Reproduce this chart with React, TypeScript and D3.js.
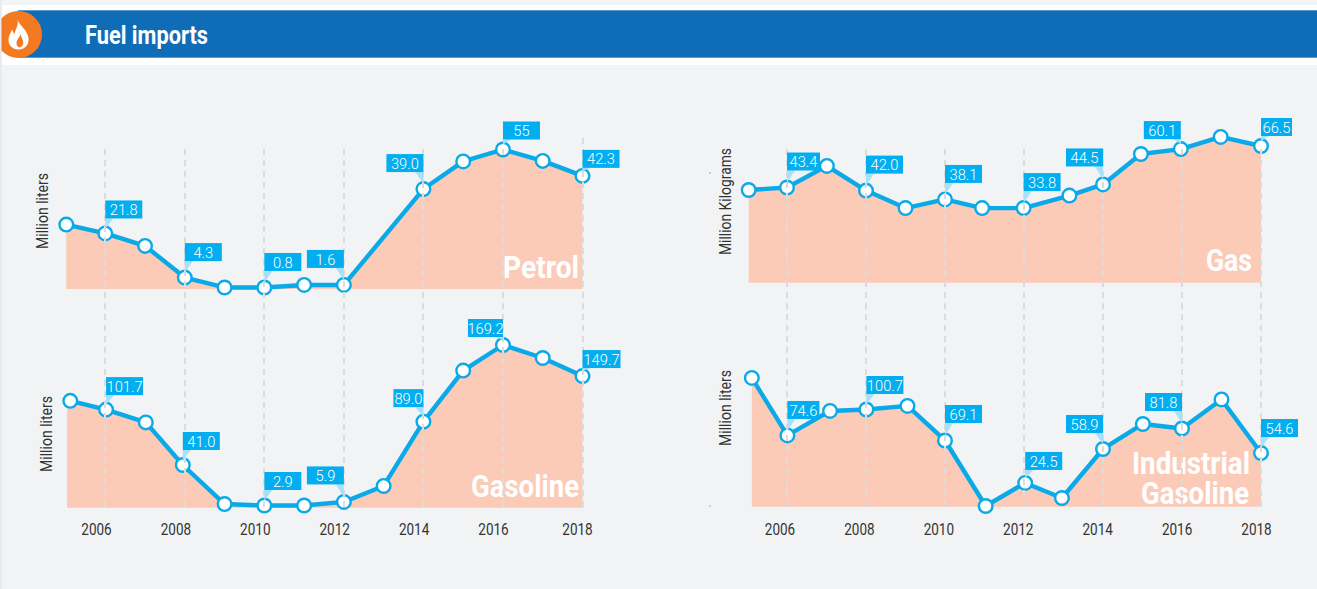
import React from "react";
import * as d3 from "d3";

const W = 1317;
const H = 589;
const FONT = "Roboto, 'Noto Sans', sans-serif";

// ---------- data ----------
const headerTitle = "Fuel imports";
const tickYears = [2006, 2008, 2010, 2012, 2014, 2016, 2018];

const petrolTimes = [2005.02, 2006, 2007, 2008, 2009, 2010, 2011, 2012, 2014, 2015, 2016, 2017, 2018];
const petrolValues = [25.4, 21.9, 17.0, 4.5, 0.6, 0.6, 1.6, 1.6, 39.4, 50.3, 55.0, 50.5, 44.6];
const petrolLabelYears = [2006, 2008, 2010, 2012, 2014, 2016, 2018];
const petrolLabelTexts = ["21.8", "4.3", "0.8", "1.6", "39.0", "55", "42.3"];

const gasolineTimes = [2005.12, 2006.02, 2007.02, 2007.95, 2009, 2010, 2011, 2012, 2013, 2014, 2015, 2016, 2017, 2018];
const gasolineValues = [111.1, 102.0, 88.7, 44.4, 3.8, 2.3, 2.3, 6.0, 22.6, 89.5, 142.6, 169.2, 155.7, 136.9];
const gasolineLabelYears = [2006, 2008, 2010, 2012, 2014, 2016, 2018];
const gasolineLabelTexts = ["101.7", "41.0", "2.9", "5.9", "89.0", "169.2", "149.7"];

const gasTimes = [2005.03, 2006, 2007.01, 2008, 2009, 2010, 2010.94, 2011.99, 2013.15, 2014, 2014.96, 2015.97, 2016.98, 2018];
const gasValues = [45.1, 46.3, 56.8, 44.8, 36.3, 40.5, 36.3, 36.3, 42.4, 47.8, 62.6, 65.0, 70.9, 66.5];
const gasLabelYears = [2006, 2008, 2010, 2012, 2014, 2016, 2018];
const gasLabelTexts = ["43.4", "42.0", "38.1", "33.8", "44.5", "60.1", "66.5"];

const industrialTimes = [2005.11, 2006.01, 2007.09, 2008.01, 2009.05, 2010, 2011.03, 2012.03, 2012.96, 2014, 2015.01, 2016, 2017, 2018];
const industrialValues = [133.4, 73.8, 99.2, 100.7, 104.4, 68.6, 0.7, 24.6, 9.0, 59.8, 85.7, 81.0, 111.1, 55.6];
const industrialLabelYears = [2006, 2008, 2010, 2012, 2014, 2016, 2018];
const industrialLabelTexts = ["74.6", "100.7", "69.1", "24.5", "58.9", "81.8", "54.6"];

// ---------- layout ----------
const COLORS = {
  page: "#f1f3f5",
  bar: "#0f6db7",
  barEdge: "#5a9bd2",
  orange: "#f47a22",
  area: "#fbcbb8",
  line: "#0aa9e8",
  label: "#02aeef",
  pointer: "#a8e0f8",
  grid: "#dcdcdc",
  text: "#333333",
};

const xLeft = d3.scaleLinear().domain([2005, 2018]).range([65.5, 582.5]);
const xRight = d3.scaleLinear().domain([2005, 2018]).range([747.5, 1261]);
const tickLeft = d3.scaleLinear().domain([2006, 2016, 2018]).range([96.5, 493.5, 577.5]);
const tickRight = d3.scaleLinear().domain([2006, 2018]).range([780, 1256.5]);

type Place = { right: boolean; lift: number; w: number };
const P = (right: boolean, lift: number, w = 37): Place => ({ right, lift, w });

const panels = [
  {
    name: "Petrol", x: xLeft, times: petrolTimes, values: petrolValues, areaStart: 2005.02,
    y: d3.scaleLinear().domain([0, 55]).range([289, 149.5]),
    labelYears: petrolLabelYears, labelTexts: petrolLabelTexts,
    places: [P(true, 15), P(true, 16.5), P(true, 16.5), P(false, 17), P(false, 17), P(true, 10), P(true, 8)],
    titles: [{ t: "Petrol", x: 503, y: 278, w: 76 }],
    axis: { t: "Million liters", x: 48, y0: 249, len: 76 },
  },
  {
    name: "Gasoline", x: xLeft, times: gasolineTimes, values: gasolineValues, areaStart: 2005.04,
    y: d3.scaleLinear().domain([0, 169.2]).range([507.7, 345]),
    labelYears: gasolineLabelYears, labelTexts: gasolineLabelTexts,
    places: [P(true, 14.5), P(true, 15), P(true, 15.5), P(false, 17.5), P(false, 14.5, 30), P(false, 8, 35), P(true, 8, 38)],
    titles: [{ t: "Gasoline", x: 471, y: 497, w: 108 }],
    axis: { t: "Million liters", x: 52, y0: 472, len: 76 },
  },
  {
    name: "Gas", x: xRight, times: gasTimes, values: gasValues, areaStart: 2005.03,
    y: d3.scaleLinear().domain([0, 66.5]).range([282.7, 146]),
    labelYears: gasLabelYears, labelTexts: gasLabelTexts,
    places: [P(true, 17, 33), P(true, 17), P(true, 16.5), P(true, 17), P(false, 18), P(false, 10), P(true, 10, 31)],
    titles: [{ t: "Gas", x: 1206, y: 271, w: 46 }],
    axis: { t: "Million Kilograms", x: 731, y0: 255, len: 107 },
  },
  {
    name: "Industrial Gasoline", x: xRight, times: industrialTimes, values: industrialValues, areaStart: 2005.11,
    y: d3.scaleLinear().domain([0, 100.7]).range([506.7, 409.5]),
    labelYears: industrialLabelYears, labelTexts: industrialLabelTexts,
    places: [P(true, 16.5, 32), P(true, 15.5), P(true, 17.5), P(true, 13), P(false, 16), P(false, 17.5), P(true, 16)],
    titles: [
      { t: "Industrial", x: 1132, y: 474, w: 118 },
      { t: "Gasoline", x: 1141, y: 503.5, w: 108 },
    ],
    axis: { t: "Million liters", x: 731, y0: 446, len: 76 },
  },
];

const FLAME =
  "M17.500 19 C18.500 25 27 29 28.500 38 C29.200 45 24.500 49.500 18.500 49.500 C12.500 49.500 8 45 8.500 39 C8.800 35 11 33 12 29.500 C13 32 13.500 33 14.500 34 C15.500 29 19 25 17.500 19 Z M20.500 33.500 C20.200 37 17 39 16.500 42.500 C16.200 45 17.500 47 19.500 47.500 C21.800 47 23.500 45 23.300 42.500 C23 39 20.800 37 20.500 33.500 Z";

export default function App() {
  const lines = d3.line<[number, number]>().x((d) => d[0]).y((d) => d[1]);

  return (
    <svg
      width={W}
      height={H}
      viewBox={`0 0 ${W} ${H}`}
      style={{ position: "fixed", left: 0, top: 0, display: "block", fontFamily: FONT }}
    >
      <rect width={W} height={H} fill={COLORS.page} />
      <rect x={0} y={0} width={2} height={H} fill="#e9ebee" />
      <rect x={2} y={5} width={W - 2} height={60} fill="#ffffff" />
      <rect x={18} y={10} width={W - 18} height={48} fill={COLORS.barEdge} />
      <rect x={18} y={11} width={W - 18} height={46} fill={COLORS.bar} />
      <clipPath id="badge">
        <rect x={1.5} y={0} width={60} height={70} />
      </clipPath>
      <circle cx={18.5} cy={34.5} r={23.5} fill={COLORS.orange} clipPath="url(#badge)" />
      <path d={FLAME} fill="#ffffff" fillRule="evenodd" />
      <text x={85} y={44} fontSize={26} fontWeight={700} fill="#ffffff" textLength={123} lengthAdjust="spacingAndGlyphs">
        {headerTitle}
      </text>

      {panels.map((p) => {
        const pts = p.times.map((t, i) => [p.x(t), p.y(p.values[i])] as [number, number]);
        const area = d3
          .area<[number, number]>()
          .x((d) => d[0])
          .y0(p.y(0))
          .y1((d) => d[1]);
        const areaPts: [number, number][] = [[p.x(p.areaStart), pts[0][1]], ...pts];
        return (
          <g key={p.name}>
            <path d={area(areaPts) ?? ""} fill={COLORS.area} />
            {p.titles.map((t) => (
              <text key={t.t} x={t.x} y={t.y} fontSize={31} fontWeight={700} fill="#ffffff" textLength={t.w} lengthAdjust="spacingAndGlyphs">
                {t.t}
              </text>
            ))}
            <path d={lines(pts) ?? ""} fill="none" stroke={COLORS.line} strokeWidth={4.4} strokeLinejoin="round" />
            {pts.map((d, i) => (
              <circle key={i} cx={d[0]} cy={d[1]} r={6.8} fill="#ffffff" stroke={COLORS.line} strokeWidth={2.4} />
            ))}
            <text
              transform={`translate(${p.axis.x},${p.axis.y0}) rotate(-90)`}
              fontSize={16.5}
              fill={COLORS.text}
              textLength={p.axis.len}
              lengthAdjust="spacingAndGlyphs"
            >
              {p.axis.t}
            </text>
          </g>
        );
      })}

      {[xLeft, xRight].map((x, k) =>
        tickYears.map((yr) => (
          <line
            key={`${k}-${yr}`}
            x1={Math.round(x(yr))}
            x2={Math.round(x(yr))}
            y1={k === 0 && yr === 2018 ? 138 : 149}
            y2={507}
            stroke={COLORS.grid}
            strokeWidth={2}
            strokeDasharray="6 5"
          />
        ))
      )}

      {panels.map((p) => (
        <g key={`labels-${p.name}`}>
          {p.labelYears.map((yr, i) => {
            const idx = p.times.findIndex((t) => Math.round(t) === yr);
            const mx = p.x(p.times[idx]);
            const my = p.y(p.values[idx]);
            const place = p.places[i];
            const bottom = my - place.lift;
            const x0 = place.right ? mx : mx - place.w;
            const tipX = place.right ? mx + 8 : mx - 8;
            return (
              <g key={yr}>
                <polygon points={`${mx},${bottom} ${tipX},${bottom} ${mx},${my - 5}`} fill={COLORS.pointer} />
                <rect x={x0} y={bottom - 18} width={place.w} height={18} fill={COLORS.label} />
                <text
                  transform={`translate(${x0 + place.w / 2},${bottom - 3.4}) scale(0.95,1)`}
                  textAnchor="middle"
                  fontSize={15.5}
                  fontWeight={300}
                  fill="#ffffff"
                >
                  {p.labelTexts[i]}
                </text>
              </g>
            );
          })}
        </g>
      ))}

      {[tickLeft, tickRight].map((x, k) =>
        tickYears.map((yr) => (
          <text
            key={`t${k}-${yr}`}
            transform={`translate(${x(yr)},535) scale(0.82,1)`}
            textAnchor="middle"
            fontSize={16.5}
            fill={COLORS.text}
          >
            {yr}
          </text>
        ))
      )}

      <circle cx={710} cy={173} r={0.9} fill="#bbbbbb" />
      <circle cx={710} cy={506} r={0.9} fill="#bbbbbb" />
    </svg>
  );
}
